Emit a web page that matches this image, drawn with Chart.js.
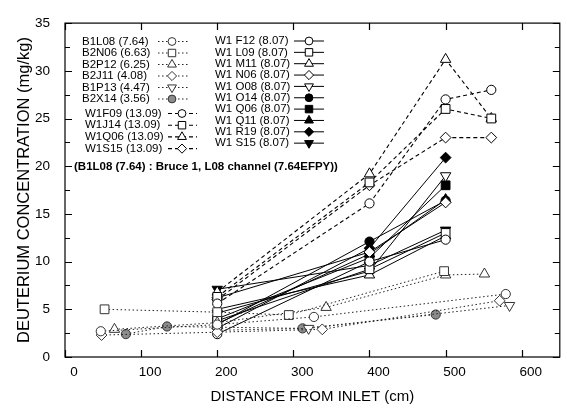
<!DOCTYPE html>
<html>
<head>
<meta charset="utf-8">
<script src="https://cdn.jsdelivr.net/npm/chart.js@4.4.0/dist/chart.umd.min.js"></script>
<style>
html, body { margin: 0; padding: 0; background: #fff; }
canvas { display: block; }
</style>
</head>
<body>
<canvas id="myChart" width="567" height="408"></canvas>
<script>
// dotted series (B channels)
var dotNames = ['B1L08 (7.64)', 'B2N06 (6.63)', 'B2P12 (6.25)', 'B2J11 (4.08)', 'B1P13 (4.47)', 'B2X14 (3.56)'];
var dotX = [
    [47, 200, 327, 579],
    [52, 200, 294, 498],
    [65, 200, 343, 500, 551],
    [48, 200, 338, 571],
    [200, 320, 584],
    [80, 134, 312, 487]
];
var dotY = [
    [2.7, 3.4, 4.2, 6.6],
    [5.0, 4.7, 4.4, 9.0],
    [2.9, 3.6, 5.2, 8.6, 8.7],
    [2.3, 2.6, 2.9, 5.9],
    [2.8, 3.0, 5.4],
    [2.4, 3.2, 3.0, 4.45]
];

// dashed series (W1, 13.09)
var dashNames = ['W1F09 (13.09)', 'W1J14 (13.09)', 'W1Q06 (13.09)', 'W1S15 (13.09)'];
var dashX = [200, 400, 500, 560];
var dashY = [
    [5.6, 16.1, 27.0, 28.0],
    [6.3, 18.3, 26.0, 25.0],
    [6.8, 19.2, 31.2, 25.0],
    [6.0, 18.0, 23.0, 23.0]
];

// solid series (W1, 8.07)
var solidNames = ['W1 F12 (8.07)', 'W1 L09 (8.07)', 'W1 M11 (8.07)', 'W1 N06 (8.07)', 'W1 O08 (8.07)',
                  'W1 O14 (8.07)', 'W1 Q06 (8.07)', 'W1 Q11 (8.07)', 'W1 R19 (8.07)', 'W1 S15 (8.07)'];
var solidX = [200, 400, 500];
var solidY = [
    [2.4, 10.0, 12.3],
    [3.8, 9.2, 13.0],
    [5.0, 8.6, 12.7],
    [6.2, 11.0, 16.2],
    [4.6, 9.0, 19.0],
    [3.4, 12.1, 16.4],
    [4.0, 10.4, 18.0],
    [3.5, 10.8, 16.5],
    [3.0, 11.4, 20.9],
    [7.1, 9.6, 13.3]
];

var xTicks = [0, 100, 200, 300, 400, 500, 600];
var yTicks = [0, 5, 10, 15, 20, 25, 30, 35];

var noteText = '(B1L08 (7.64) : Bruce 1, L08 channel (7.64EFPY))';

// marker looks
var shapes = ['circle', 'rect', 'triangle', 'rectRot', 'triangle'];
var shapeRot = [0, 0, 0, 0, 180];
var shapeSize = { circle: 4.6, rect: 6.2, triangle: 6, rectRot: 5.4 };
var FONT = '"Liberation Sans", Arial, Helvetica, sans-serif';

function toPoints(xs, ys) {
    return ys.map(function (v, i) { return { x: xs[i], y: v }; });
}

var datasets = [];
dotNames.forEach(function (name, i) {
    var s = i < 5 ? shapes[i] : 'circle';
    datasets.push({
        label: name,
        data: toPoints(dotX[i], dotY[i]),
        borderColor: '#222',
        borderWidth: 1,
        borderDash: [1.5, 2.5],
        pointStyle: s,
        pointRotation: i < 5 ? shapeRot[i] : 0,
        pointRadius: shapeSize[s],
        pointBorderColor: '#333',
        pointBorderWidth: 1,
        pointBackgroundColor: i === 5 ? '#8c8c8c' : '#fff',
        kind: 'dot'
    });
});
dashNames.forEach(function (name, i) {
    var s = shapes[i];
    datasets.push({
        label: name,
        data: toPoints(dashX, dashY[i]),
        borderColor: '#000',
        borderWidth: 1.1,
        borderDash: [4, 3],
        pointStyle: s,
        pointRotation: shapeRot[i],
        pointRadius: shapeSize[s],
        pointBorderColor: '#000',
        pointBorderWidth: 1,
        pointBackgroundColor: '#fff',
        kind: 'dash'
    });
});
solidNames.forEach(function (name, i) {
    var s = shapes[i % 5];
    datasets.push({
        label: name,
        data: toPoints(solidX, solidY[i]),
        borderColor: '#000',
        borderWidth: 1,
        borderDash: [],
        pointStyle: s,
        pointRotation: shapeRot[i % 5],
        pointRadius: shapeSize[s],
        pointBorderColor: '#000',
        pointBorderWidth: 1,
        pointBackgroundColor: i < 5 ? '#fff' : '#000',
        kind: 'solid'
    });
});

function drawMarker(ctx, style, x, y, r, rot, fill, stroke) {
    ctx.save();
    ctx.translate(x, y);
    ctx.rotate(rot * Math.PI / 180);
    ctx.beginPath();
    if (style === 'circle') {
        ctx.arc(0, 0, r, 0, Math.PI * 2);
    } else if (style === 'rect') {
        var h = r * Math.SQRT1_2;
        ctx.rect(-h, -h, 2 * h, 2 * h);
    } else if (style === 'triangle') {
        for (var k = 0; k < 3; k++) {
            var a = k * 2 * Math.PI / 3;
            ctx.lineTo(Math.sin(a) * r, -Math.cos(a) * r);
        }
        ctx.closePath();
    } else {
        ctx.moveTo(0, -r); ctx.lineTo(r, 0); ctx.lineTo(0, r); ctx.lineTo(-r, 0);
        ctx.closePath();
    }
    ctx.setLineDash([]);
    ctx.fillStyle = fill;
    ctx.fill();
    ctx.lineWidth = 1;
    ctx.strokeStyle = stroke;
    ctx.stroke();
    ctx.restore();
}

// box round the plot with inward ticks
var framePlugin = {
    id: 'frame',
    beforeDatasetsDraw: function (chart) {
        var ctx = chart.ctx, a = chart.chartArea;
        var xs = chart.scales.x, ys = chart.scales.y;
        ctx.save();
        ctx.strokeStyle = '#000';
        ctx.lineWidth = 1.2;
        ctx.strokeRect(a.left, a.top, a.right - a.left, a.bottom - a.top);
        ctx.beginPath();
        xTicks.forEach(function (v) {
            var px = Math.round(xs.getPixelForValue(v)) + 0.5;
            ctx.moveTo(px, a.bottom); ctx.lineTo(px, a.bottom - 7);
            ctx.moveTo(px, a.top); ctx.lineTo(px, a.top + 7);
        });
        for (var v = 0; v <= 35; v += 2.5) {
            var py = Math.round(ys.getPixelForValue(v)) + 0.5;
            var len = v % 5 === 0 ? 7 : 5;
            ctx.moveTo(a.left, py); ctx.lineTo(a.left + len, py);
            ctx.moveTo(a.right, py); ctx.lineTo(a.right - len, py);
        }
        ctx.stroke();
        ctx.restore();
    }
};

// the hand-laid legend and the note
var legendPlugin = {
    id: 'sideLegend',
    afterDraw: function (chart) {
        var ctx = chart.ctx;
        ctx.save();
        ctx.fillStyle = '#000';
        ctx.textBaseline = 'middle';
        ctx.textAlign = 'left';
        ctx.font = '11.5px ' + FONT;
        chart.data.datasets.forEach(function (ds, i) {
            var tx, y, l0, l1, mx;
            if (ds.kind === 'dot') {
                tx = 82; y = 41.5 + i * 11.5; l0 = 158; l1 = 188; mx = 172;
            } else if (ds.kind === 'dash') {
                var j = i - 6;
                tx = 85; y = 113.5 + j * 11.7; l0 = 168; l1 = 197; mx = 182;
            } else {
                var k = i - 10;
                tx = 215; y = 41 + k * 11.35; l0 = 294; l1 = 324; mx = 309;
            }
            ctx.fillStyle = '#000';
            ctx.fillText(ds.label, tx, y);
            ctx.beginPath();
            ctx.setLineDash(ds.borderDash);
            ctx.lineWidth = ds.borderWidth;
            ctx.strokeStyle = ds.borderColor;
            ctx.moveTo(l0, y); ctx.lineTo(l1, y);
            ctx.stroke();
            drawMarker(ctx, ds.pointStyle, mx, y, ds.pointRadius * 0.85, ds.pointRotation,
                       ds.pointBackgroundColor, ds.pointBorderColor);
        });
        ctx.setLineDash([]);
        ctx.fillStyle = '#000';
        ctx.font = 'bold 11.5px ' + FONT;
        ctx.fillText(noteText, 74, 167);
        ctx.restore();
    }
};

var context = document.getElementById('myChart').getContext('2d');

var myChart = new Chart(context, {
    type: 'line',
    data: { datasets: datasets },
    options: {
        responsive: false,
        animation: false,
        devicePixelRatio: 1,
        layout: { padding: { left: 0, right: 2, top: 19, bottom: 0 } },
        plugins: {
            legend: { display: false },
            tooltip: { enabled: false }
        },
        scales: {
            x: {
                type: 'linear',
                min: 0,
                max: 650,
                afterBuildTicks: function (scale) {
                    scale.ticks = xTicks.map(function (v) { return { value: v }; });
                },
                afterFit: function (scale) { scale.height = 51; },
                grid: { display: false, drawTicks: false },
                border: { display: false },
                ticks: {
                    color: '#000',
                    padding: 7,
                    labelOffset: 9,
                    maxRotation: 0,
                    font: { family: FONT, size: 13.5 }
                },
                title: {
                    display: true,
                    text: 'DISTANCE FROM INLET (cm)',
                    color: '#000',
                    padding: { top: 0, bottom: 2 },
                    font: { family: FONT, size: 15, lineHeight: 1.2 }
                }
            },
            y: {
                min: 0,
                max: 35,
                afterBuildTicks: function (scale) {
                    scale.ticks = yTicks.map(function (v) { return { value: v }; });
                },
                afterFit: function (scale) { scale.width = 65; },
                grid: { display: false, drawTicks: false },
                border: { display: false },
                ticks: {
                    color: '#000',
                    padding: 15,
                    font: { family: FONT, size: 13.5 }
                },
                title: {
                    display: true,
                    text: 'DEUTERIUM CONCENTRATION (mg/kg)',
                    color: '#000',
                    padding: { top: 15, bottom: 0 },
                    font: { family: FONT, size: 16.5, lineHeight: 1.2 }
                }
            }
        }
    },
    plugins: [framePlugin, legendPlugin]
});
</script>
</body>
</html>
